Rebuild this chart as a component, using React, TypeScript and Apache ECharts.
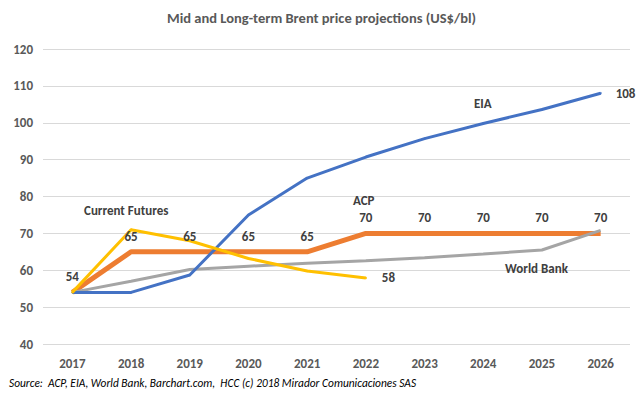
import React, { useEffect, useRef } from "react";
import * as echarts from "echarts";

const years = ["2017", "2018", "2019", "2020", "2021", "2022", "2023", "2024", "2025", "2026"];
const eia = [54, 54, 58.7, 75, 85, 90.7, 95.7, 99.8, 103.6, 108];
const acp = [54, 65, 65, 65, 65, 70, 70, 70, 70, 70];
const worldBank = [54, 57, 60.2, 61.1, 61.9, 62.6, 63.4, 64.4, 65.5, 70.8];
const futures = [54, 71, 68, 63.2, 59.8, 57.9];

const FONT = "Carlito, 'Liberation Sans Narrow', 'Liberation Sans', sans-serif";
const GREY = "#595959";
const LABEL = "#404040";

export default function App() {
  const ref = useRef<HTMLDivElement>(null);
  useEffect(() => {
    const chart = echarts.init(ref.current!, null, { renderer: "svg" });
    const lastIdx = (arr: number[]) => arr.length - 1;
    const endLabel = (distance: number) => ({
      show: true,
      position: "right",
      distance,
      formatter: (p: any) => String(Math.round(p.value)),
      fontFamily: FONT,
      fontSize: 13,
      fontWeight: "bold",
      color: LABEL,
    });
    chart.setOption({
      animation: false,
      backgroundColor: "#ffffff",
      textStyle: { fontFamily: FONT },
      title: {
        text: "Mid and Long-term Brent price projections (US$/bl)",
        left: "center",
        top: 5,
        textStyle: { fontFamily: FONT, fontSize: 14.5, fontWeight: "bold", color: GREY },
      },
      grid: { left: 43, right: 13, top: 49, bottom: 54 },
      xAxis: {
        type: "category",
        data: years,
        boundaryGap: true,
        axisLine: { show: false },
        axisTick: { show: false },
        axisLabel: { fontFamily: FONT, fontSize: 13, fontWeight: "bold", color: GREY, margin: 13 },
      },
      yAxis: {
        type: "value",
        min: 40,
        max: 120,
        interval: 10,
        axisLine: { show: false },
        axisTick: { show: false },
        splitLine: { lineStyle: { color: "#D9D9D9", width: 1 } },
        axisLabel: { fontFamily: FONT, fontSize: 13, fontWeight: "bold", color: GREY, margin: 10 },
      },
      series: [
        {
          name: "ACP",
          type: "line",
          data: acp,
          symbol: "none",
          lineStyle: { color: "#ED7D31", width: 5 },
          z: 2,
        },
        {
          name: "World Bank",
          type: "line",
          data: worldBank,
          symbol: "none",
          lineStyle: { color: "#A5A5A5", width: 3 },
          z: 3,
        },
        {
          name: "EIA",
          type: "line",
          data: eia.map((v, i) => (i === lastIdx(eia) ? { value: v, label: endLabel(14) } : v)),
          symbol: "circle",
          symbolSize: 2,
          showSymbol: true,
          itemStyle: { color: "#4472C4" },
          label: { show: false },
          lineStyle: { color: "#4472C4", width: 3 },
          z: 4,
        },
        {
          name: "Current Futures",
          type: "line",
          data: futures.map((v, i) => (i === lastIdx(futures) ? { value: v, label: endLabel(15) } : v)),
          symbol: "circle",
          symbolSize: 2,
          showSymbol: true,
          itemStyle: { color: "#FFC000" },
          label: { show: false },
          lineStyle: { color: "#FFC000", width: 3 },
          z: 5,
        },
        {
          name: "ACP labels",
          type: "line",
          data: acp,
          symbol: "circle",
          symbolSize: 0.01,
          showSymbol: true,
          itemStyle: { color: "#ED7D31" },
          lineStyle: { width: 0, opacity: 0 },
          label: {
            show: true,
            position: "top",
            distance: 9,
            fontFamily: FONT,
            fontSize: 13,
            fontWeight: "bold",
            color: LABEL,
          },
          labelLayout: { hideOverlap: false },
          z: 10,
        },
      ],
      graphic: [
        { type: "text", left: 84, top: 204, z: 20, style: { text: "Current Futures", font: `bold 13px ${FONT}`, fill: LABEL } },
        { type: "text", left: 353, top: 194, z: 20, style: { text: "ACP", font: `bold 13px ${FONT}`, fill: LABEL } },
        { type: "text", left: 474, top: 97, z: 20, style: { text: "EIA", font: `bold 13px ${FONT}`, fill: LABEL } },
        { type: "text", left: 505, top: 262, z: 20, style: { text: "World Bank", font: `bold 13px ${FONT}`, fill: LABEL } },
        {
          type: "text",
          left: 9,
          top: 377,
          style: {
            text: "Source:  ACP, EIA, World Bank, Barchart.com,  HCC (c) 2018 Mirador Comunicaciones SAS",
            font: `italic 11.4px ${FONT}`,
            fill: "#000000",
          },
        },
      ],
    });
    return () => chart.dispose();
  }, []);
  return <div ref={ref} style={{ width: 643, height: 398, position: "absolute", left: 0, top: 0 }} />;
}
